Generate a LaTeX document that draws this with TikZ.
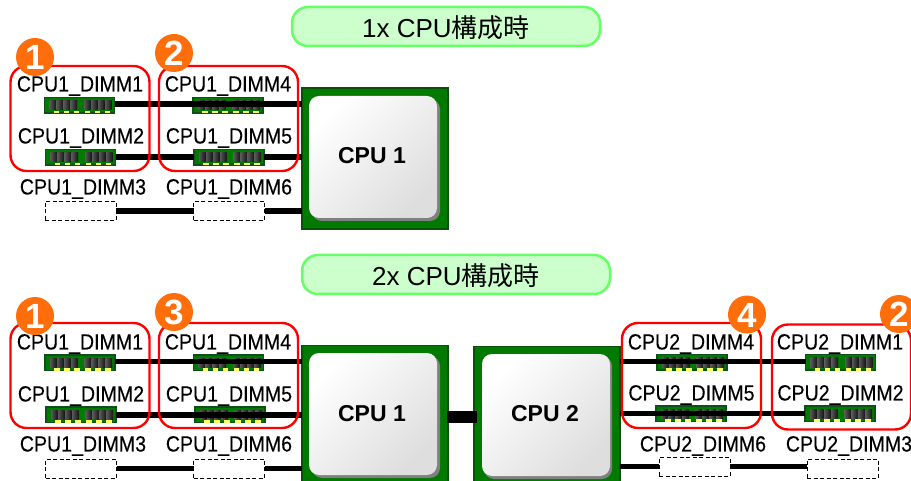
\documentclass[tikz,border=0pt]{standalone}
\usepackage{fontspec}
\setmainfont{Liberation Sans}
\newfontfamily\cjkfnt{Noto Sans CJK JP}
\newfontfamily\lblfont[FakeStretch=0.89,FakeBold=0.25]{Liberation Sans}
\definecolor{pillfill}{HTML}{CCFFCC}
\definecolor{pilldraw}{HTML}{66FF66}
\definecolor{badgeor}{HTML}{FF6E0A}
\definecolor{cpugreen}{HTML}{007A00}
\definecolor{cpuedge}{HTML}{0B4F0B}
\definecolor{dimmedge}{HTML}{0F4F1A}
\definecolor{dimmgreen}{HTML}{007A00}
\definecolor{gold}{HTML}{FFFF66}
\tikzset{
  x=1pt,y=-1pt,
  every node/.style={inner sep=0pt,outer sep=0pt},
  pill/.style={draw=pilldraw,fill=pillfill,line width=2.5pt,rounded corners=16pt,minimum width=308pt,minimum height=39pt},
  pilltext/.style={font=\fontsize{26}{28}\selectfont,text=black},
  lbl/.style={font=\lblfont\fontsize{22}{24}\selectfont,text=black},
  redbox/.style={draw=red,line width=2.4pt,rounded corners=16pt,minimum width=139pt,minimum height=105pt},
  badge/.style={circle,fill=badgeor,minimum size=38pt},
  badgetext/.style={text=white,font=\bfseries\fontsize{35}{37}\selectfont},
  dimmbox/.style={draw=dimmedge,line width=1.4pt,fill=dimmgreen,minimum width=70pt,minimum height=15.5pt},
  slotbox/.style={draw=black,dashed,line width=1pt,fill=white,minimum width=71pt,minimum height=19pt,dash pattern=on 4pt off 2.5pt},
  bus/.style={line width=5.5pt,draw=black},
  cpuouter/.style={draw=cpuedge,line width=1.3pt,fill=cpugreen,minimum width=146pt,minimum height=141pt},
  cpuinner/.style={rounded corners=10pt,minimum width=128pt,minimum height=122pt,top color=white,bottom color=black!13,shading angle=45},
  cputext/.style={font=\bfseries\fontsize{23}{25}\selectfont,text=black},
  cpushadow/.style={rounded corners=10pt,fill=black!50},
}
% name, left x, top y
\newcommand{\dimmmod}[3]{%
  \node[dimmbox,anchor=north west] (#1) at (#2,#3) {};
  \begin{scope}[shift={(#2,#3)}]
    \foreach \cx in {5,12,19,26,39.5,46.5,53.5,60.5}
      \shade[left color=black!65,right color=black!92] (\cx,3) rectangle ++(6.6,9.5);
    \foreach \gx in {9,19,29,40,50,60}
      \fill[gold] (\gx,13.2) rectangle ++(5.6,2.8);
  \end{scope}
}
% badge: name, x, y, digit
\newcommand{\badgemark}[4]{%
  \node[badge] (#1) at (#2,#3) {};
  \node[badgetext] at ([yshift=-0.5pt]#1.center) {#4};
}
\begin{document}
\begin{tikzpicture}
\clip (0,0) rectangle (911,481);
\fill[white] (0,0) rectangle (911,481);

% ---------- upper group
\node[pill] (pillA) at (446,26.5) {};
\node[pilltext] at (446,27.5) {1x CPU{\cjkfnt 構成時}};
\node[cpuouter] (cpuA) at (375,158.5) {};
\fill[cpushadow] (312,99) rectangle (440,221);
\node[cpuinner] (cpuAi) at (373,157) {};
\node[cputext] at (372,156) {CPU 1};

\dimmmod{aa}{44.5}{97.5}
\dimmmod{ab}{45.5}{149.5}
\node[slotbox,anchor=north west] (ac) at (45,201.5) {};
\node[slotbox,anchor=north west] (af) at (193.5,201.5) {};
\dimmmod{ae}{194}{149.5}
\draw[bus] ([yshift=0.3pt]ab.east) -- ([yshift=0.3pt]ae.west);
\draw[bus] ([yshift=0.3pt]ae.east) -- ([yshift=0.3pt]ae.east -| cpuA.west);
\dimmmod{ad}{193}{97.5}
\draw[bus] ([yshift=1.2pt]aa.east) -- ([yshift=1.2pt]aa.east -| cpuA.west);
\draw[bus] (ac.east) -- (af.west);
\draw[bus] (af.east) -- (af.east -| cpuA.west);

\node[lbl] (laa) at (80,86) {CPU1\_DIMM1};
\node[lbl] (lad) at (228,86) {CPU1\_DIMM4};
\node[lbl] (lab) at (81,138) {CPU1\_DIMM2};
\node[lbl] (lae) at (229,138) {CPU1\_DIMM5};
\node[lbl] (lac) at (83,189) {CPU1\_DIMM3};
\node[lbl] (laf) at (229,189) {CPU1\_DIMM6};

\node[redbox] (ra1) at (80,118.5) {};
\node[redbox] (ra2) at (228.5,118.5) {};
\badgemark{ba1}{35}{57}{1}
\badgemark{ba2}{174}{53}{2}

% ---------- lower group
\node[pill] (pillB) at (456,274.5) {};
\node[pilltext] at (456,275.5) {2x CPU{\cjkfnt 構成時}};
\node[cpuouter] (cpuB) at (375,416) {};
\fill[cpushadow] (312,356) rectangle (440,478);
\node[cpuinner] (cpuBi) at (373,414) {};
\node[cputext] at (372,414) {CPU 1};
\node[cpuouter] (cpuC) at (547,417) {};
\fill[cpushadow] (484,356) rectangle (612,479);
\node[cpuinner] (cpuCi) at (546,415) {};
\node[cputext] at (545,414) {CPU 2};
\fill[black] (447,411) rectangle (477,423);

\dimmmod{ba}{45}{355}
\dimmmod{bb}{46}{407}
\dimmmod{bd}{193.5}{355}
\dimmmod{be}{195}{407}
\node[slotbox,anchor=north west] (bc) at (45.5,459) {};
\node[slotbox,anchor=north west] (bf) at (193.5,459) {};
\draw[bus] ([yshift=1.2pt]ba.east) -- ([yshift=1.2pt]ba.east -| cpuB.west);
\draw[bus] (bb.east) -- (bb.east -| cpuB.west);
\draw[bus] (bc.east) -- (bf.west);
\draw[bus] (bf.east) -- (bf.east -| cpuB.west);

\node[lbl] (lba) at (80,344) {CPU1\_DIMM1};
\node[lbl] (lbd) at (228,344) {CPU1\_DIMM4};
\node[lbl] (lbb) at (81,396) {CPU1\_DIMM2};
\node[lbl] (lbe) at (229,396) {CPU1\_DIMM5};
\node[lbl] (lbc) at (83,446) {CPU1\_DIMM3};
\node[lbl] (lbf) at (229,446) {CPU1\_DIMM6};

\node[redbox] (rb1) at (80,375.5) {};
\node[redbox] (rb2) at (228.5,375.5) {};
\badgemark{bb1}{35}{316}{1}
\badgemark{bb2}{174}{312}{3}

% CPU2 side
\dimmmod{ca}{805.5}{354.5}
\dimmmod{cb}{805}{406}
\dimmmod{cd}{657}{354.5}
\dimmmod{ce}{656}{406}
\node[slotbox,anchor=north west] (cf) at (659,457) {};
\node[slotbox,anchor=north west] (cc) at (807,459) {};
\draw[bus] ([yshift=1pt]ca.west) -- ([yshift=1pt]ca.west -| cpuC.east);
\draw[bus] ([yshift=0.2pt]cb.west) -- ([yshift=0.2pt]cb.west -| cpuC.east);
\draw[bus] (cf.west) -- (cf.west -| cpuC.east);
\draw[bus] (cf.east) -- (cf.east -| cc.west);

\node[lbl] (lcd) at (691,344) {CPU2\_DIMM4};
\node[lbl] (lca) at (840,344) {CPU2\_DIMM1};
\node[lbl] (lce) at (691.5,395) {CPU2\_DIMM5};
\node[lbl] (lcb) at (840.5,395) {CPU2\_DIMM2};
\node[lbl] (lcf) at (703,446) {CPU2\_DIMM6};
\node[lbl] (lcc) at (849,446) {CPU2\_DIMM3};

\node[redbox] (rc1) at (691.5,375.5) {};
\node[redbox] (rc2) at (841.5,377) {};
\badgemark{bc1}{747}{314.5}{4}
\badgemark{bc2}{899}{314}{2}
\end{tikzpicture}
\end{document}
